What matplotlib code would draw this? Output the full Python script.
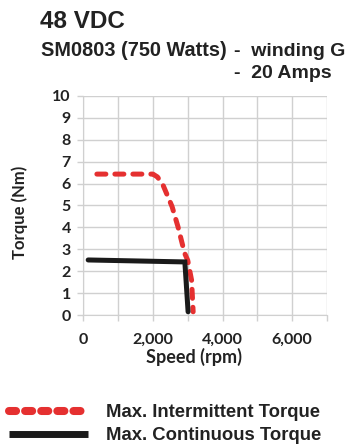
import matplotlib
matplotlib.use("Agg")
import matplotlib.pyplot as plt

# Data
inter_speed = [390, 2000, 2130, 2290, 2550, 2720, 2910, 3000, 3110, 3155]
inter_torque = [6.43, 6.43, 6.3, 5.93, 4.95, 4.03, 2.83, 2.5, 1.6, 0.16]
cont_speed = [140, 2917, 3010]
cont_torque = [2.52, 2.43, 0.16]

x_ticks = [0, 2000, 4000, 6000]
x_tick_labels = ["0", "2,000", "4,000", "6,000"]
y_ticks = list(range(0, 11))

title_main = "48 VDC"
sub1 = "SM0803 (750 Watts)"
sub2 = "-  winding G"
sub3 = "-  20 Amps"
x_label = "Speed (rpm)"
y_label = "Torque (Nm)"
legend_labels = ["Max. Intermittent Torque", "Max. Continuous Torque"]

W, H = 348, 448
fig = plt.figure(figsize=(W / 100, H / 100), dpi=100)
ax = fig.add_axes([83.3 / W, 1 - 315.3 / H, 243.7 / W, 219.6 / H])

red = "#e53030"
blk = "#1a1a1a"
txt = "#222222"
gridc = "#d0d0d0"
tfont = "Liberation Sans"
afont = "Lato"

l1, = ax.plot(inter_speed, inter_torque, color=red, lw=3.6,
              dash_capstyle="round", label=legend_labels[0])
l1.set_dashes([1.8, 1.8])
l2, = ax.plot(cont_speed, cont_torque, color=blk, lw=3.6, solid_capstyle="round",
              solid_joinstyle="miter", label=legend_labels[1])

ax.set_xlim(0, 7000)
ax.set_ylim(0, 10)
ax.set_xticks(x_ticks)
ax.set_xticklabels(x_tick_labels)
ax.set_xticks(range(0, 7001, 1000), minor=True)
ax.set_yticks(y_ticks)
ax.grid(True, which="both", color=gridc, lw=1.0)
ax.set_axisbelow(True)
for s in ax.spines.values():
    s.set_visible(False)
for side in ("left", "bottom"):
    ax.spines[side].set_visible(True)
    ax.spines[side].set_color(gridc)
ax.tick_params(axis="both", which="both", color=gridc, length=4, width=1.0)
ax.tick_params(axis="y", pad=5)
ax.tick_params(axis="x", pad=8.5)
for lab in ax.get_xticklabels() + ax.get_yticklabels():
    lab.set_fontfamily(afont)
    lab.set_fontweight("bold")
    lab.set_fontsize(11.5)
    lab.set_color(txt)

ax.set_xlabel(x_label, fontfamily=afont, fontweight="bold", fontsize=13, color=txt)
ax.xaxis.set_label_coords((194 - 83.3) / 243.7, -(362.5 - 315.3) / 219.6)
ax.xaxis.label.set_va("baseline")
ax.set_ylabel(y_label, fontfamily=afont, fontweight="bold", fontsize=12, color=txt)
ax.yaxis.set_label_coords(-(83.3 - 20) / 243.7, (315.3 - 212) / 219.6)
ax.yaxis.label.set_va("center")

fig.text(40 / W, 1 - 28 / H, title_main, fontfamily=tfont, fontweight="bold", fontsize=17.5,
         color=txt, va="baseline")
fig.text(41 / W, 1 - 56 / H, sub1, fontfamily=tfont, fontweight="bold", fontsize=14.3,
         color=txt, va="baseline")
fig.text(234 / W, 1 - 56 / H, sub2, fontfamily=tfont, fontweight="bold", fontsize=14,
         color=txt, va="baseline")
fig.text(234 / W, 1 - 78.5 / H, sub3, fontfamily=tfont, fontweight="bold", fontsize=14,
         color=txt, va="baseline")

leg = fig.legend(handles=[l1, l2], labels=legend_labels, loc="upper left",
                 bbox_to_anchor=(8.5 / W, 1 - 404 / H), frameon=False, borderpad=0,
                 borderaxespad=0, handlelength=4.3, handletextpad=1.0, labelspacing=0.35,
                 prop={"family": tfont, "weight": "bold", "size": 13.3})
for t in leg.get_texts():
    t.set_color(txt)
lh0, lh1 = leg.get_lines()
lh0.set_linewidth(5.8)
lh0.set_dashes([0.875, 1.125])
lh0.set_dash_capstyle("round")
lh1.set_linewidth(5)
lh1.set_solid_capstyle("butt")

fig.savefig("out.png", dpi=100)
